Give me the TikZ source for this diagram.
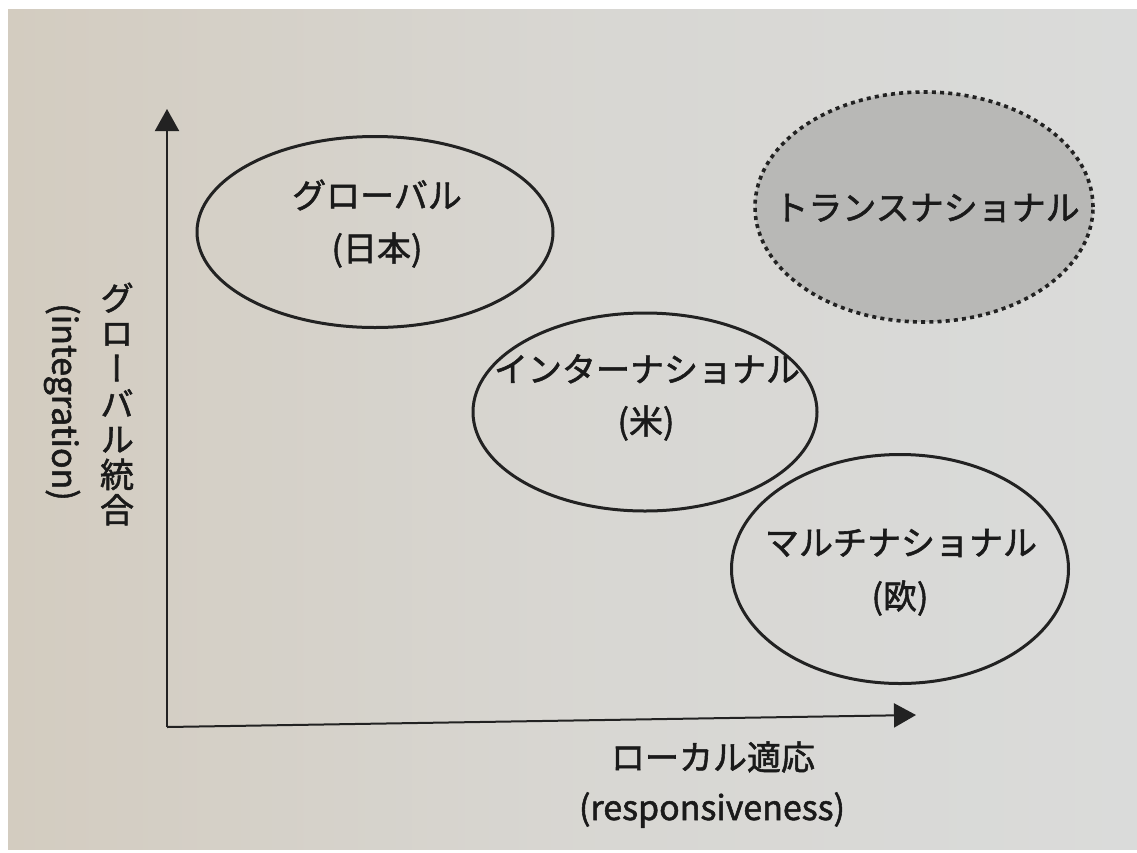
\documentclass[tikz,border=0pt]{standalone}
\usepackage{fontspec}
\setmainfont{Noto Sans CJK JP}[FakeBold=1.6]
\newfontfamily\jpv{Noto Sans CJK JP}[RawFeature={+vert},FakeBold=1.6]
\usetikzlibrary{shapes.geometric,arrows.meta}
\definecolor{paperL}{HTML}{D3CCC0}
\definecolor{paperR}{HTML}{DADBDA}
\definecolor{ink}{HTML}{1A1A1A}
\definecolor{lineink}{HTML}{222222}
\definecolor{tfill}{HTML}{B8B8B6}
\tikzset{
  oval/.style={ellipse, draw=lineink, line width=3pt, inner sep=0pt},
  dotoval/.style={ellipse, draw=lineink, fill=tfill, line width=3.6pt, dash pattern=on 4pt off 4.2pt, inner sep=0pt},
  txt/.style={inner sep=0pt, text=ink, font=\fontsize{34}{40}\selectfont},
  axis/.style={draw=lineink, line width=2pt, -{Triangle[length=22pt,width=24pt]}},
}
\begin{document}
\begin{tikzpicture}[x=1pt,y=-1pt]
\useasboundingbox (0,0) rectangle (1137,852);
\fill[white] (0,0) rectangle (1137,852);
\shade[left color=paperL, right color=paperR, middle color=paperR!70!paperL] (8,9) rectangle (1137,849);
% axes
\coordinate (O) at (167,727);
\coordinate (Ytip) at (167,109);
\coordinate (Xtip) at (916,715);
\draw[axis] (O) -- (Ytip);
\draw[axis] (O) -- (Xtip);
% ellipses
\node[oval, minimum width=356pt, minimum height=191pt] (glob) at (375,232) {};
\node[oval, minimum width=344pt, minimum height=198pt] (inter) at (645,412) {};
\node[oval, minimum width=337pt, minimum height=229pt] (multi) at (900,569) {};
\node[dotoval, minimum width=338pt, minimum height=230pt] (trans) at (924,207) {};
% texts
\node[txt] (t1) at (377,195) {グローバル};
\node[txt] (t1b) at (377,250) {(日本)};
\node[txt] (t2) at (647,369) {インターナショナル};
\node[txt] (t2b) at (646,423) {(米)};
\node[txt] (t3) at (901,543) {マルチナショナル};
\node[txt] (t3b) at (900,598) {(欧)};
\node[txt] (t4) at (927,208) {トランスナショナル};
% axis labels
\node[txt, font=\jpv\fontsize{34}{35.3}\selectfont, align=center] (yl) at (117,404) {グ\\ロ\\ー\\バ\\ル\\統\\合};
\node[txt, rotate=-90] (yl2) at (62,402) {(integration)};
\node[txt] (xl) at (713,757) {ローカル適応};
\node[txt] (xl2) at (712,810) {(responsiveness)};
\end{tikzpicture}
\end{document}
